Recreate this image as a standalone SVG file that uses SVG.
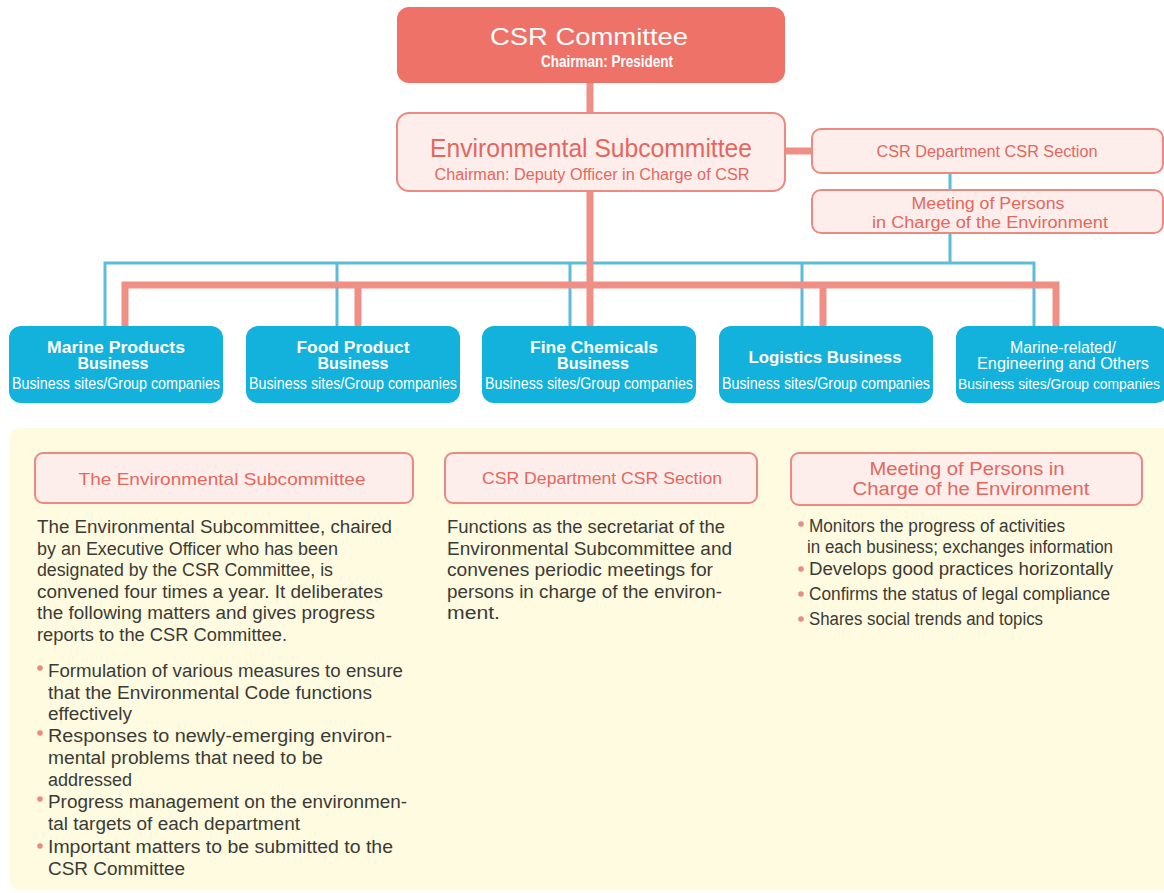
<svg xmlns="http://www.w3.org/2000/svg" width="1164" height="893" viewBox="0 0 1164 893">
<style>
.sal{fill:none;stroke:#F08F85;stroke-width:7;stroke-linejoin:miter}
.blu{fill:none;stroke:#5DBCD9;stroke-width:3}
.pinkbox{fill:#FDEEEC;stroke:#EA8A80;stroke-width:2}
.biz{fill:#12B2DC}
.t{font-family:"Liberation Sans",Arial,sans-serif}
.pk{fill:#E4675D}
.wh{fill:#FFFFFF}
.body{font-family:"Liberation Sans",Arial,sans-serif;font-size:18px;fill:#3A3A36}
.dot{fill:#EC8A82}
</style>
<rect width="1164" height="893" fill="#FFFFFF"/>

<g id="connectors">
  <path class="blu" d="M950,173 V190 M950,233 V263 M105,326 V263 H1034 V326 M337,263 V326 M570,263 V326 M802,263 V326"/>
  <path class="sal" d="M590,83 V113 M785,151 H812 M590,192 V326 M125,326 V285 H1056 V326 M358,285 V326 M823,285 V326"/>
</g>

<g id="csr-committee">
  <rect x="397" y="7" width="388" height="76" rx="12" fill="#EE7268"/>
  <text class="t wh" x="589" y="45" font-size="24" text-anchor="middle" textLength="198" lengthAdjust="spacingAndGlyphs">CSR Committee</text>
  <text class="t wh" x="607" y="67" font-size="16" font-weight="bold" text-anchor="middle" textLength="132" lengthAdjust="spacingAndGlyphs">Chairman: President</text>
</g>

<g id="env-subcommittee">
  <rect class="pinkbox" x="397" y="113" width="388" height="78" rx="12"/>
  <text class="t pk" x="591" y="157" font-size="25" text-anchor="middle" textLength="322" lengthAdjust="spacingAndGlyphs">Environmental Subcommittee</text>
  <text class="t pk" x="592" y="180" font-size="16" text-anchor="middle" textLength="315" lengthAdjust="spacingAndGlyphs">Chairman: Deputy Officer in Charge of CSR</text>
</g>

<g id="csr-section">
  <rect class="pinkbox" x="812" y="129" width="351" height="44" rx="9"/>
  <text class="t pk" x="987" y="157" font-size="16" text-anchor="middle" textLength="221" lengthAdjust="spacingAndGlyphs">CSR Department CSR Section</text>
</g>

<g id="meeting">
  <rect class="pinkbox" x="812" y="190" width="351" height="43" rx="9"/>
  <text class="t pk" x="988" y="209" font-size="16" text-anchor="middle" textLength="153" lengthAdjust="spacingAndGlyphs">Meeting of Persons</text>
  <text class="t pk" x="990" y="228" font-size="16" text-anchor="middle" textLength="236" lengthAdjust="spacingAndGlyphs">in Charge of the Environment</text>
</g>

<g id="biz-marine">
  <rect class="biz" x="9" y="326" width="214" height="77" rx="12"/>
  <text class="t wh" x="116" y="353" font-size="16" font-weight="bold" text-anchor="middle" textLength="138" lengthAdjust="spacingAndGlyphs">Marine Products</text>
  <text class="t wh" x="113" y="369" font-size="16" font-weight="bold" text-anchor="middle" textLength="71" lengthAdjust="spacingAndGlyphs">Business</text>
  <text class="t wh" x="116" y="389" font-size="16" text-anchor="middle" textLength="208" lengthAdjust="spacingAndGlyphs">Business sites/Group companies</text>
</g>

<g id="biz-food">
  <rect class="biz" x="246" y="326" width="214" height="77" rx="12"/>
  <text class="t wh" x="353" y="353" font-size="16" font-weight="bold" text-anchor="middle" textLength="113" lengthAdjust="spacingAndGlyphs">Food Product</text>
  <text class="t wh" x="353" y="369" font-size="16" font-weight="bold" text-anchor="middle" textLength="71" lengthAdjust="spacingAndGlyphs">Business</text>
  <text class="t wh" x="353" y="389" font-size="16" text-anchor="middle" textLength="208" lengthAdjust="spacingAndGlyphs">Business sites/Group companies</text>
</g>

<g id="biz-fine">
  <rect class="biz" x="482" y="326" width="214" height="77" rx="12"/>
  <text class="t wh" x="594" y="353" font-size="16" font-weight="bold" text-anchor="middle" textLength="128" lengthAdjust="spacingAndGlyphs">Fine Chemicals</text>
  <text class="t wh" x="593" y="369" font-size="16" font-weight="bold" text-anchor="middle" textLength="72" lengthAdjust="spacingAndGlyphs">Business</text>
  <text class="t wh" x="589" y="389" font-size="16" text-anchor="middle" textLength="208" lengthAdjust="spacingAndGlyphs">Business sites/Group companies</text>
</g>

<g id="biz-logistics">
  <rect class="biz" x="719" y="326" width="214" height="77" rx="12"/>
  <text class="t wh" x="825" y="363" font-size="16" font-weight="bold" text-anchor="middle" textLength="153" lengthAdjust="spacingAndGlyphs">Logistics Business</text>
  <text class="t wh" x="826" y="389" font-size="16" text-anchor="middle" textLength="208" lengthAdjust="spacingAndGlyphs">Business sites/Group companies</text>
</g>

<g id="biz-marine-related">
  <rect class="biz" x="956" y="326" width="212" height="77" rx="12"/>
  <text class="t wh" x="1063" y="353" font-size="16" text-anchor="middle" textLength="106" lengthAdjust="spacingAndGlyphs">Marine-related/</text>
  <text class="t wh" x="1063" y="369" font-size="16" text-anchor="middle" textLength="172" lengthAdjust="spacingAndGlyphs">Engineering and Others</text>
  <text class="t wh" x="1059" y="389" font-size="14" text-anchor="middle" textLength="202" lengthAdjust="spacingAndGlyphs">Business sites/Group companies</text>
</g>

<g id="notes-panel">
  <rect x="10" y="428" width="1162" height="462" rx="9" fill="#FFFBE0"/>
</g>

<g id="note-env">
  <rect class="pinkbox" x="35" y="453" width="378" height="50" rx="8"/>
  <text class="t pk" x="222" y="485" font-size="17" text-anchor="middle" textLength="287" lengthAdjust="spacingAndGlyphs">The Environmental Subcommittee</text>
  <text class="body" x="37" y="533" textLength="355" lengthAdjust="spacingAndGlyphs">The Environmental Subcommittee, chaired</text>
  <text class="body" x="37" y="554.5" textLength="301" lengthAdjust="spacingAndGlyphs">by an Executive Officer who has been</text>
  <text class="body" x="37" y="576" textLength="296" lengthAdjust="spacingAndGlyphs">designated by the CSR Committee, is</text>
  <text class="body" x="37" y="597.5" textLength="346" lengthAdjust="spacingAndGlyphs">convened four times a year. It deliberates</text>
  <text class="body" x="37" y="619" textLength="338" lengthAdjust="spacingAndGlyphs">the following matters and gives progress</text>
  <text class="body" x="37" y="640.5" textLength="250" lengthAdjust="spacingAndGlyphs">reports to the CSR Committee.</text>
  <circle class="dot" cx="40" cy="668" r="2.8"/>
  <text class="body" x="48" y="677" textLength="355" lengthAdjust="spacingAndGlyphs">Formulation of various measures to ensure</text>
  <text class="body" x="48" y="698.5" textLength="324" lengthAdjust="spacingAndGlyphs">that the Environmental Code functions</text>
  <text class="body" x="48" y="720" textLength="84" lengthAdjust="spacingAndGlyphs">effectively</text>
  <circle class="dot" cx="40" cy="733" r="2.8"/>
  <text class="body" x="48" y="742" textLength="344" lengthAdjust="spacingAndGlyphs">Responses to newly-emerging environ-</text>
  <text class="body" x="48" y="764" textLength="275" lengthAdjust="spacingAndGlyphs">mental problems that need to be</text>
  <text class="body" x="48" y="786" textLength="84" lengthAdjust="spacingAndGlyphs">addressed</text>
  <circle class="dot" cx="40" cy="799" r="2.8"/>
  <text class="body" x="48" y="808" textLength="359" lengthAdjust="spacingAndGlyphs">Progress management on the environmen-</text>
  <text class="body" x="48" y="830" textLength="252" lengthAdjust="spacingAndGlyphs">tal targets of each department</text>
  <circle class="dot" cx="40" cy="846" r="2.8"/>
  <text class="body" x="48" y="853" textLength="345" lengthAdjust="spacingAndGlyphs">Important matters to be submitted to the</text>
  <text class="body" x="48" y="875" textLength="137" lengthAdjust="spacingAndGlyphs">CSR Committee</text>
</g>

<g id="note-csr">
  <rect class="pinkbox" x="445" y="453" width="312" height="50" rx="8"/>
  <text class="t pk" x="602" y="484" font-size="17" text-anchor="middle" textLength="240" lengthAdjust="spacingAndGlyphs">CSR Department CSR Section</text>
  <text class="body" x="447" y="533" textLength="278" lengthAdjust="spacingAndGlyphs">Functions as the secretariat of the</text>
  <text class="body" x="447" y="554.5" textLength="285" lengthAdjust="spacingAndGlyphs">Environmental Subcommittee and</text>
  <text class="body" x="447" y="576" textLength="266" lengthAdjust="spacingAndGlyphs">convenes periodic meetings for</text>
  <text class="body" x="447" y="597.5" textLength="275" lengthAdjust="spacingAndGlyphs">persons in charge of the environ-</text>
  <text class="body" x="447" y="619" textLength="53" lengthAdjust="spacingAndGlyphs">ment.</text>
</g>

<g id="note-meeting">
  <rect class="pinkbox" x="791" y="453" width="351" height="52" rx="8"/>
  <text class="t pk" x="967" y="475" font-size="18" text-anchor="middle" textLength="195" lengthAdjust="spacingAndGlyphs">Meeting of Persons in</text>
  <text class="t pk" x="971" y="495" font-size="18" text-anchor="middle" textLength="237" lengthAdjust="spacingAndGlyphs">Charge of he Environment</text>
  <circle class="dot" cx="801" cy="524" r="2.8"/>
  <text class="body" x="809" y="532" textLength="256" lengthAdjust="spacingAndGlyphs">Monitors the progress of activities</text>
  <text class="body" x="807" y="553" textLength="306" lengthAdjust="spacingAndGlyphs">in each business; exchanges information</text>
  <circle class="dot" cx="801" cy="569" r="2.8"/>
  <text class="body" x="809" y="575" textLength="304" lengthAdjust="spacingAndGlyphs">Develops good practices horizontally</text>
  <circle class="dot" cx="801" cy="594" r="2.8"/>
  <text class="body" x="809" y="600" textLength="301" lengthAdjust="spacingAndGlyphs">Confirms the status of legal compliance</text>
  <circle class="dot" cx="801" cy="619" r="2.8"/>
  <text class="body" x="809" y="625" textLength="234" lengthAdjust="spacingAndGlyphs">Shares social trends and topics</text>
</g>
</svg>
